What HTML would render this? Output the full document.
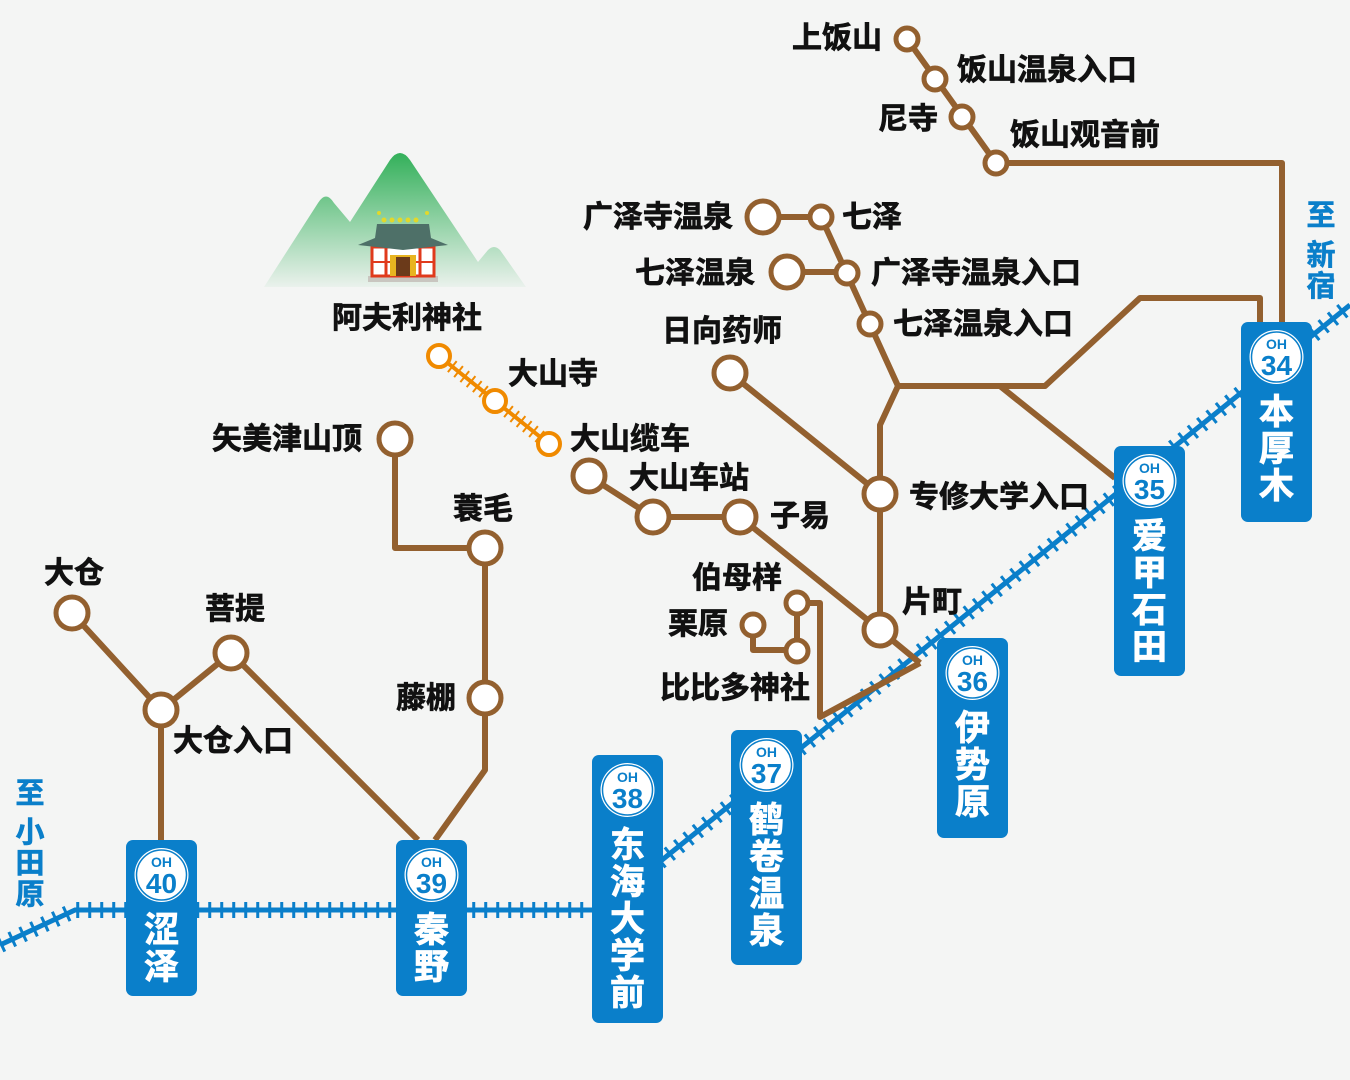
<!DOCTYPE html>
<html><head><meta charset="utf-8"><style>
html,body{margin:0;padding:0;background:#f4f5f4;}
svg{display:block}
text{font-family:"Liberation Sans","Noto Sans CJK SC",sans-serif;font-weight:bold;}
.l{font-size:30px;fill:#111;stroke:#111;stroke-width:0.7}
.s{font-size:35px;fill:#fff;stroke:#fff;stroke-width:0.8}
.b{fill:#0a7fca;stroke:#0a7fca;stroke-width:0.6}
</style></head><body>
<svg width="1350" height="1080" viewBox="0 0 1350 1080" xmlns="http://www.w3.org/2000/svg">
<defs>
<linearGradient id="g" x1="0" y1="0" x2="0" y2="1">
<stop offset="0" stop-color="#33b05a"/><stop offset="1" stop-color="#33b05a" stop-opacity="0.05"/>
</linearGradient>
</defs>
<rect width="1350" height="1080" fill="#f4f5f4"/>
<path d="M264 287 L318 203 Q326 190 334 203 L350 222 L390 160 Q400 146 410 160 L478 262 L488 250 Q494 244 500 250 L526 287 Z" fill="url(#g)"/>
<rect x="368" y="276" width="70" height="6" fill="#c9c6c0"/>
<rect x="372" y="247" width="62" height="29" fill="#fff"/>
<rect x="372" y="247" width="62" height="29" fill="none" stroke="#e03a1c" stroke-width="3"/>
<line x1="386" y1="247" x2="386" y2="276" stroke="#e03a1c" stroke-width="3"/>
<line x1="420" y1="247" x2="420" y2="276" stroke="#e03a1c" stroke-width="3"/>
<line x1="372" y1="262" x2="434" y2="262" stroke="#e03a1c" stroke-width="2"/>
<rect x="390" y="255" width="26" height="21" fill="#e8b420"/>
<rect x="396" y="257" width="14" height="19" fill="#6b3a1a"/>
<path d="M358 245 L375 238 L377 224 L429 224 L431 238 L448 245 L403 250 Z" fill="#4e7068"/>
<g fill="#e2d82a"><circle cx="384" cy="220" r="2.5"/><circle cx="392" cy="220" r="2.5"/><circle cx="400" cy="220" r="2.5"/><circle cx="408" cy="220" r="2.5"/><circle cx="416" cy="220" r="2.5"/><circle cx="379" cy="213" r="2"/><circle cx="427" cy="213" r="2"/></g>

<g stroke="#0a7fca" fill="none">
<polyline points="0,945 75,910 600,910 1350,305" stroke-width="5"/>
<polyline points="0,945 75,910 600,910 1350,305" stroke-width="16" stroke-dasharray="3 9"/>
</g>

<g stroke="#93602f" stroke-width="6" fill="none" stroke-linejoin="round">
<polyline points="72,613 161,710 161,840"/>
<polyline points="161,710 231,653 418,840"/>
<polyline points="395,439 395,548 485,548 485,770 435,840"/>
<polyline points="589,476 653,517 740,517 880,630 920,663"/>
<polyline points="730,373 880,494 880,425 898,386 821,217 763,217"/>
<polyline points="880,494 880,630"/>
<polyline points="787,272 847,272"/>
<polyline points="898,386 1045,386 1140,298 1260,298 1260,322"/>
<polyline points="1000,386 1115,478"/>
<polyline points="907,39 996,163 1282,163 1282,322"/>
<polyline points="753,625 753,650 797,650 797,603 820,603 820,717 920,663"/>
</g>
<g stroke="#f08a00" fill="none">
<line x1="439" y1="356" x2="549" y2="444" stroke-width="4"/>
<line x1="439" y1="356" x2="549" y2="444" stroke-width="14" stroke-dasharray="2 6"/>
</g>
<g fill="#fff" stroke="#f08a00" stroke-width="4">
<circle cx="439" cy="356" r="11"/><circle cx="495" cy="401" r="11"/><circle cx="549" cy="444" r="11"/>
</g>
<g fill="#fff" stroke="#93602f" stroke-width="5">
<circle cx="72" cy="613" r="16"/><circle cx="161" cy="710" r="16"/><circle cx="231" cy="653" r="16"/>
<circle cx="395" cy="439" r="16"/><circle cx="485" cy="548" r="16"/><circle cx="485" cy="698" r="16"/>
<circle cx="589" cy="476" r="16"/><circle cx="653" cy="517" r="16"/><circle cx="740" cy="517" r="16"/>
<circle cx="880" cy="630" r="16"/><circle cx="880" cy="494" r="16"/><circle cx="730" cy="373" r="16"/>
<circle cx="763" cy="217" r="16"/><circle cx="787" cy="272" r="16"/>
<circle cx="821" cy="217" r="11"/><circle cx="847" cy="273" r="11"/><circle cx="870" cy="324" r="11"/>
<circle cx="907" cy="39" r="11"/><circle cx="935" cy="79" r="11"/><circle cx="962" cy="117" r="11"/><circle cx="996" cy="163" r="11"/>
<circle cx="753" cy="625" r="11"/><circle cx="797" cy="603" r="11"/><circle cx="797" cy="651" r="11"/>
</g>

<g class="l">
<text x="882" y="48" text-anchor="end">上饭山</text>
<text x="957" y="80">饭山温泉入口</text>
<text x="938" y="129" text-anchor="end">尼寺</text>
<text x="1010" y="145">饭山观音前</text>
<text x="733" y="227" text-anchor="end">广泽寺温泉</text>
<text x="842" y="227">七泽</text>
<text x="755" y="283" text-anchor="end">七泽温泉</text>
<text x="871" y="283">广泽寺温泉入口</text>
<text x="893" y="334">七泽温泉入口</text>
<text x="662" y="341">日向药师</text>
<text x="332" y="328">阿夫利神社</text>
<text x="508" y="384">大山寺</text>
<text x="570" y="449">大山缆车</text>
<text x="362" y="449" text-anchor="end">矢美津山顶</text>
<text x="629" y="488">大山车站</text>
<text x="770" y="526">子易</text>
<text x="909" y="507">专修大学入口</text>
<text x="453" y="519">蓑毛</text>
<text x="44" y="583">大仓</text>
<text x="205" y="619">菩提</text>
<text x="692" y="588">伯母样</text>
<text x="902" y="612">片町</text>
<text x="668" y="634">栗原</text>
<text x="660" y="698">比比多神社</text>
<text x="456" y="708" text-anchor="end">藤棚</text>
<text x="173" y="751">大仓入口</text>
</g>
<g class="b" style="font-size:29px">
<text x="30" y="803" text-anchor="middle">至</text>
<text x="30" y="842" text-anchor="middle">小</text>
<text x="30" y="873" text-anchor="middle">田</text>
<text x="30" y="904" text-anchor="middle">原</text>
<text x="1321" y="225" text-anchor="middle">至</text>
<text x="1321" y="265" text-anchor="middle">新</text>
<text x="1321" y="296" text-anchor="middle">宿</text>
</g>

<g>
<rect x="126" y="840" width="71" height="156" rx="7" fill="#0a7fca"/>
<circle cx="161.5" cy="875" r="27" fill="#fff"/><circle cx="161.5" cy="875" r="25" fill="none" stroke="#0a7fca" stroke-width="1.5"/>
<text x="161.5" y="867" text-anchor="middle" style="font-size:14px;fill:#0a7fca">OH</text>
<text x="161.5" y="893" text-anchor="middle" style="font-size:28px;fill:#0a7fca">40</text>
<text class="s" x="161.5" y="942" text-anchor="middle">涩</text>
<text class="s" x="161.5" y="979" text-anchor="middle">泽</text>
</g>
<g>
<rect x="396" y="840" width="71" height="156" rx="7" fill="#0a7fca"/>
<circle cx="431.5" cy="875" r="27" fill="#fff"/><circle cx="431.5" cy="875" r="25" fill="none" stroke="#0a7fca" stroke-width="1.5"/>
<text x="431.5" y="867" text-anchor="middle" style="font-size:14px;fill:#0a7fca">OH</text>
<text x="431.5" y="893" text-anchor="middle" style="font-size:28px;fill:#0a7fca">39</text>
<text class="s" x="431.5" y="942" text-anchor="middle">秦</text>
<text class="s" x="431.5" y="979" text-anchor="middle">野</text>
</g>
<g>
<rect x="592" y="755" width="71" height="268" rx="7" fill="#0a7fca"/>
<circle cx="627.5" cy="790" r="27" fill="#fff"/><circle cx="627.5" cy="790" r="25" fill="none" stroke="#0a7fca" stroke-width="1.5"/>
<text x="627.5" y="782" text-anchor="middle" style="font-size:14px;fill:#0a7fca">OH</text>
<text x="627.5" y="808" text-anchor="middle" style="font-size:28px;fill:#0a7fca">38</text>
<text class="s" x="627.5" y="857" text-anchor="middle">东</text>
<text class="s" x="627.5" y="894" text-anchor="middle">海</text>
<text class="s" x="627.5" y="931" text-anchor="middle">大</text>
<text class="s" x="627.5" y="968" text-anchor="middle">学</text>
<text class="s" x="627.5" y="1005" text-anchor="middle">前</text>
</g>
<g>
<rect x="731" y="730" width="71" height="235" rx="7" fill="#0a7fca"/>
<circle cx="766.5" cy="765" r="27" fill="#fff"/><circle cx="766.5" cy="765" r="25" fill="none" stroke="#0a7fca" stroke-width="1.5"/>
<text x="766.5" y="757" text-anchor="middle" style="font-size:14px;fill:#0a7fca">OH</text>
<text x="766.5" y="783" text-anchor="middle" style="font-size:28px;fill:#0a7fca">37</text>
<text class="s" x="766.5" y="832" text-anchor="middle">鹤</text>
<text class="s" x="766.5" y="869" text-anchor="middle">卷</text>
<text class="s" x="766.5" y="906" text-anchor="middle">温</text>
<text class="s" x="766.5" y="943" text-anchor="middle">泉</text>
</g>
<g>
<rect x="937" y="638" width="71" height="200" rx="7" fill="#0a7fca"/>
<circle cx="972.5" cy="673" r="27" fill="#fff"/><circle cx="972.5" cy="673" r="25" fill="none" stroke="#0a7fca" stroke-width="1.5"/>
<text x="972.5" y="665" text-anchor="middle" style="font-size:14px;fill:#0a7fca">OH</text>
<text x="972.5" y="691" text-anchor="middle" style="font-size:28px;fill:#0a7fca">36</text>
<text class="s" x="972.5" y="740" text-anchor="middle">伊</text>
<text class="s" x="972.5" y="777" text-anchor="middle">势</text>
<text class="s" x="972.5" y="814" text-anchor="middle">原</text>
</g>
<g>
<rect x="1114" y="446" width="71" height="230" rx="7" fill="#0a7fca"/>
<circle cx="1149.5" cy="481" r="27" fill="#fff"/><circle cx="1149.5" cy="481" r="25" fill="none" stroke="#0a7fca" stroke-width="1.5"/>
<text x="1149.5" y="473" text-anchor="middle" style="font-size:14px;fill:#0a7fca">OH</text>
<text x="1149.5" y="499" text-anchor="middle" style="font-size:28px;fill:#0a7fca">35</text>
<text class="s" x="1149.5" y="548" text-anchor="middle">爱</text>
<text class="s" x="1149.5" y="585" text-anchor="middle">甲</text>
<text class="s" x="1149.5" y="622" text-anchor="middle">石</text>
<text class="s" x="1149.5" y="659" text-anchor="middle">田</text>
</g>
<g>
<rect x="1241" y="322" width="71" height="200" rx="7" fill="#0a7fca"/>
<circle cx="1276.5" cy="357" r="27" fill="#fff"/><circle cx="1276.5" cy="357" r="25" fill="none" stroke="#0a7fca" stroke-width="1.5"/>
<text x="1276.5" y="349" text-anchor="middle" style="font-size:14px;fill:#0a7fca">OH</text>
<text x="1276.5" y="375" text-anchor="middle" style="font-size:28px;fill:#0a7fca">34</text>
<text class="s" x="1276.5" y="424" text-anchor="middle">本</text>
<text class="s" x="1276.5" y="461" text-anchor="middle">厚</text>
<text class="s" x="1276.5" y="498" text-anchor="middle">木</text>
</g>
</svg>
</body></html>
